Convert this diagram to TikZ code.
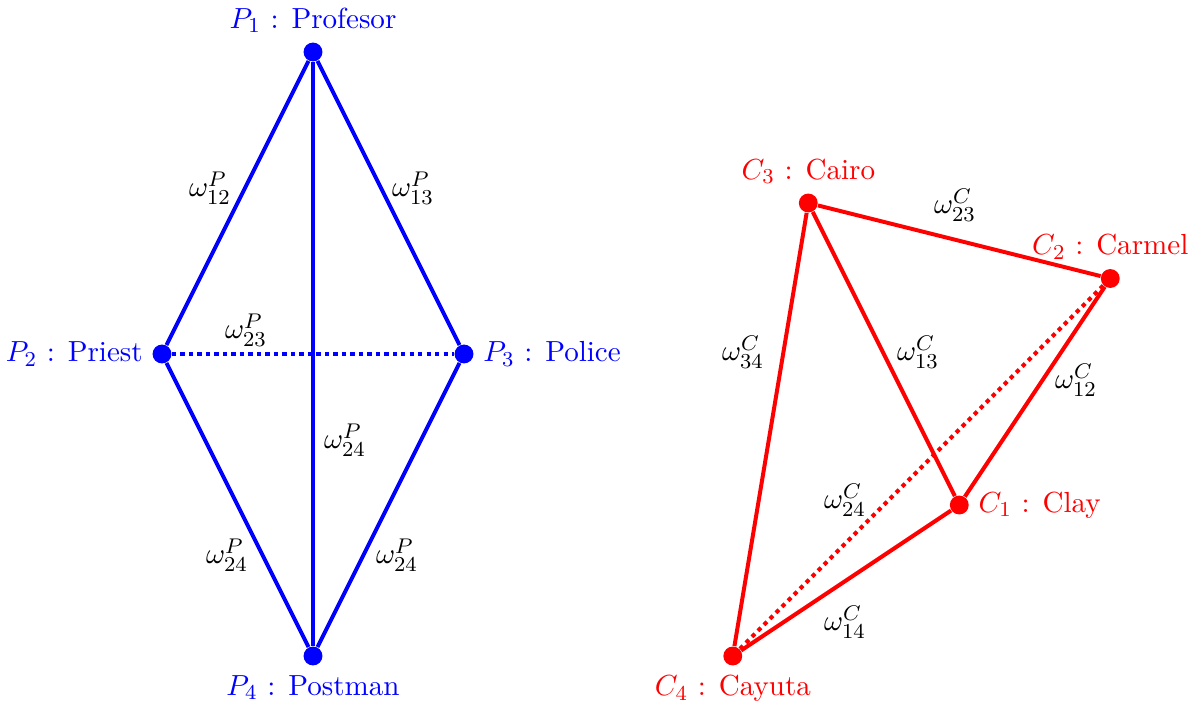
\documentclass[tikz,border=0pt]{standalone}
\begin{document}
\begin{tikzpicture}[
  font=\fontsize{10.95}{13.6}\selectfont,
  bdot/.style={circle,fill=blue,inner sep=0pt,minimum size=0.25cm},
  rdot/.style={circle,fill=red,inner sep=0pt,minimum size=0.25cm},
  bedge/.style={blue,line width=1.5pt},
  redge/.style={red,line width=1.5pt},
  dotline/.style={dash pattern=on 1.6pt off 1.6pt},
  wlab/.style={inner sep=1pt}
]
\useasboundingbox (-4.146,-4.689) rectangle (11.735,4.689);
% Blue graph
\node[bdot,label={[blue]above:$P_1$ : Profesor}] (P1) at (0,4) {};
\node[bdot,label={[blue]left:$P_2$ : Priest}] (P2) at (-2,0) {};
\node[bdot,label={[blue]right:$P_3$ : Police}] (P3) at (2,0) {};
\node[bdot,label={[blue]below:$P_4$ : Postman}] (P4) at (0,-4) {};
\draw[bedge] (P1) -- (P2);
\draw[bedge] (P1) -- (P3);
\draw[bedge] (P1) -- (P4);
\draw[bedge] (P2) -- (P4);
\draw[bedge] (P3) -- (P4);
\draw[bedge,dotline] (P2) -- (P3);
\node[wlab] (w12p) at (-1.364,2.199) {$\omega^P_{12}$};
\node[wlab] (w13p) at (1.325,2.199) {$\omega^P_{13}$};
\node[wlab] (w23p) at (-0.887,0.318) {$\omega^P_{23}$};
\node[wlab] (w24a) at (0.424,-1.139) {$\omega^P_{24}$};
\node[wlab] (w24b) at (-1.139,-2.662) {$\omega^P_{24}$};
\node[wlab] (w24c) at (1.113,-2.662) {$\omega^P_{24}$};
% Red graph
\node[rdot,label={[red]above:$C_3$ : Cairo}] (C3) at (6.56,2) {};
\node[rdot,label={[red]above:$C_2$ : Carmel}] (C2) at (10.56,1) {};
\node[rdot,label={[red]right:$C_1$ : Clay}] (C1) at (8.56,-2) {};
\node[rdot,label={[red]below:$C_4$ : Cayuta}] (C4) at (5.56,-4) {};
\draw[redge] (C3) -- (C2);
\draw[redge] (C3) -- (C1);
\draw[redge] (C3) -- (C4);
\draw[redge] (C2) -- (C1);
\draw[redge] (C1) -- (C4);
\draw[redge,dotline] (C2) -- (C4);
\node[wlab] (w23c) at (8.503,1.974) {$\omega^C_{23}$};
\node[wlab] (w13c) at (8.013,0.026) {$\omega^C_{13}$};
\node[wlab] (w34c) at (5.695,0.026) {$\omega^C_{34}$};
\node[wlab] (w12c) at (10.106,-0.344) {$\omega^C_{12}$};
\node[wlab] (w24c2) at (7.046,-1.934) {$\omega^C_{24}$};
\node[wlab] (w14c) at (7.046,-3.550) {$\omega^C_{14}$};
\end{tikzpicture}
\end{document}
